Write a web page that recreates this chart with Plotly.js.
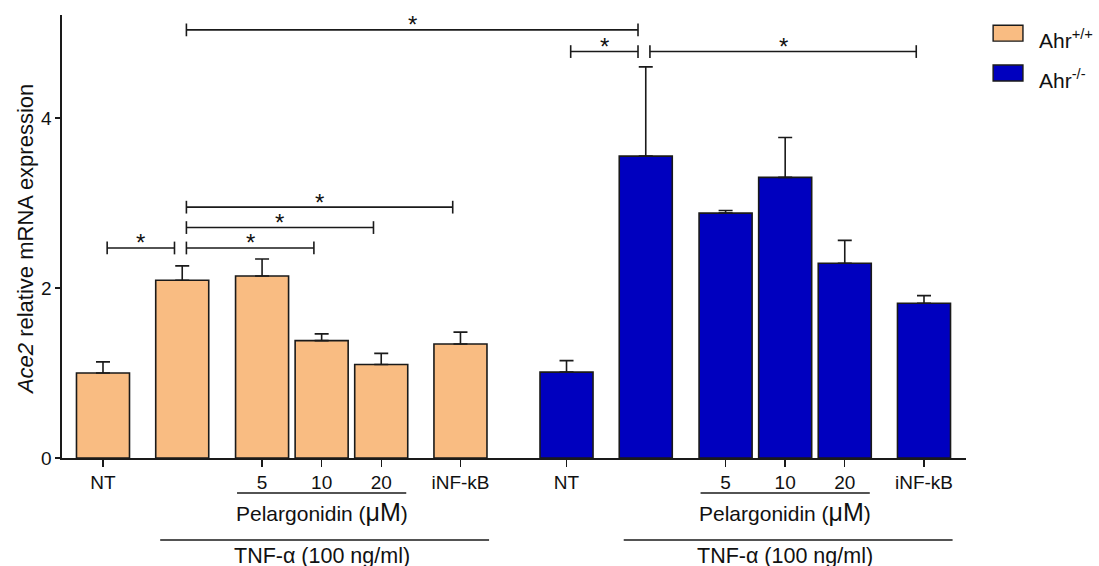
<!DOCTYPE html>
<html>
<head>
<meta charset="utf-8">
<script src="https://cdn.plot.ly/plotly-3.0.1.min.js"></script>
<style>html,body{margin:0;padding:0;background:#fff;}#chart{width:1099px;height:566px;}</style>
</head>
<body>
<div id="chart"></div>
<script>
// ---- data ----
const conditions = ['NT', 'TNF', '5', '10', '20', 'iNF-kB'];
const tickLabels = ['NT', '', '5', '10', '20', 'iNF-kB'];
const seriesNames = ['Ahr<sup>+/+</sup>', 'Ahr<sup>-/-</sup>'];
const wtMean = [1.00, 2.09, 2.14, 1.38, 1.10, 1.34];
const wtSem  = [0.13, 0.17, 0.20, 0.08, 0.13, 0.14];
const koMean = [1.01, 3.55, 2.88, 3.30, 2.29, 1.82];
const koSem  = [0.135, 1.05, 0.03, 0.47, 0.27, 0.09];
// significance comparisons (indices into the 12 bars: 0-5 wild type, 6-11 knockout)
const sigFrom  = [0, 1, 1, 1, 1, 6, 7];
const sigTo    = [1, 3, 4, 5, 7, 7, 11];
const sigLevel = [2.47, 2.47, 2.71, 2.95, 5.035, 4.78, 4.78];
const sigLabel = ['*', '*', '*', '*', '*', '*', '*'];

// ---- layout helpers ----
const slotPos = [0, 1.33, 2.67, 3.67, 4.67, 6.0];
const groupOffset = [0, 7.78];
const xs = g => slotPos.map(p => p + groupOffset[g]);
const allX = xs(0).concat(xs(1));
const colors = ['#F9BC82', '#0000BF'];
const F = '"Liberation Sans", Arial, Helvetica, sans-serif';
const tickIdx = [0, 2, 3, 4, 5];

const traces = [wtMean, koMean].map((vals, g) => ({
  type: 'bar',
  x: xs(g),
  y: vals,
  width: 0.89,
  name: seriesNames[g],
  marker: {color: colors[g], line: {color: '#1a1a1a', width: 1.6}},
  error_y: {type: 'data', symmetric: false, array: (g ? koSem : wtSem), arrayminus: vals.map(() => 0),
            color: '#1a1a1a', thickness: 1.6, width: 7},
  showlegend: false,
  hoverinfo: 'skip'
}));

const shapes = [];
const annotations = [];
const tickH = 0.075;
sigFrom.forEach((a, i) => {
  const x0 = allX[a] + 0.07, x1 = allX[sigTo[i]] - 0.13, y = sigLevel[i];
  const L = {color: '#1a1a1a', width: 1.6};
  shapes.push({type: 'line', xref: 'x', yref: 'y', x0: x0, x1: x1, y0: y, y1: y, line: L});
  shapes.push({type: 'line', xref: 'x', yref: 'y', x0: x0, x1: x0, y0: y - tickH, y1: y + tickH, line: L});
  shapes.push({type: 'line', xref: 'x', yref: 'y', x0: x1, x1: x1, y0: y - tickH, y1: y + tickH, line: L});
  annotations.push({xref: 'x', yref: 'y', x: (x0 + x1) / 2, y: y, text: sigLabel[i], showarrow: false,
    font: {family: F, size: 24, color: '#111'}, xanchor: 'center', yanchor: 'middle', yshift: 5});
});

// group underlines
[0, 1].forEach(g => {
  const p = xs(g);
  const mid = (p[2] + p[4]) / 2;
  shapes.push({type: 'line', xref: 'x', yref: 'paper', x0: p[2] - 0.42, x1: p[4] + 0.42, y0: -0.079, y1: -0.079,
    line: {color: '#1a1a1a', width: 1.4}});
  annotations.push({xref: 'x', yref: 'paper', x: mid, y: -0.121, showarrow: false,
    text: 'Pelargonidin (<span style="font-size:25px">μM</span>)', font: {family: F, size: 21, color: '#111'},
    xanchor: 'center', yanchor: 'middle'});
  shapes.push({type: 'line', xref: 'x', yref: 'paper', x0: p[1] - 0.37, x1: p[5] + 0.48, y0: -0.185, y1: -0.185,
    line: {color: '#1a1a1a', width: 1.4}});
  annotations.push({xref: 'x', yref: 'paper', x: mid, y: -0.222, showarrow: false,
    text: 'TNF-α (100 ng/ml)', font: {family: F, size: 21.5, color: '#111'}, xanchor: 'center', yanchor: 'middle'});
});

// manual legend
const legY = [[0.977, 0.941], [0.887, 0.851]];
[0, 1].forEach(g => {
  shapes.push({type: 'rect', xref: 'paper', yref: 'paper', x0: 1.030, x1: 1.063, y0: legY[g][1], y1: legY[g][0],
    fillcolor: colors[g], line: {color: '#1a1a1a', width: 1.4}});
  annotations.push({xref: 'paper', yref: 'paper', x: 1.0785, y: (legY[g][0] + legY[g][1]) / 2 - 0.014, showarrow: false,
    text: seriesNames[g], font: {family: F, size: 21, color: '#111'}, xanchor: 'left', yanchor: 'middle'});
});

// y title
annotations.push({xref: 'paper', yref: 'paper', x: -0.041, y: 0.494, textangle: -90, showarrow: false,
  text: '<i>Ace2</i> relative mRNA expression', font: {family: F, size: 22, color: '#111'},
  xanchor: 'center', yanchor: 'middle'});

const layout = {
  width: 1099, height: 566,
  margin: {l: 62, r: 133, t: 15, b: 108},
  paper_bgcolor: '#fff', plot_bgcolor: '#fff',
  font: {family: F, color: '#111'},
  bargap: 0,
  xaxis: {range: [-0.688, 14.485], showline: true, linecolor: '#1a1a1a', linewidth: 1.6,
    tickmode: 'array',
    tickvals: [0, 1].flatMap(g => tickIdx.map(i => xs(g)[i])),
    ticktext: [0, 1].flatMap(() => tickIdx.map(i => tickLabels[i])),
    ticks: 'outside', ticklen: 7, tickwidth: 1.4, tickcolor: '#1a1a1a',
    tickfont: {family: F, size: 19, color: '#111'}, showgrid: false, zeroline: false, fixedrange: true},
  yaxis: {range: [0, 5.21], showline: true, linecolor: '#1a1a1a', linewidth: 1.6,
    tickmode: 'array', tickvals: [0, 2, 4], ticks: 'outside', ticklen: 5, tickwidth: 1.4, tickcolor: '#1a1a1a',
    tickfont: {family: F, size: 19, color: '#111'}, showgrid: false, zeroline: false, fixedrange: true},
  shapes: shapes,
  annotations: annotations,
  showlegend: false
};

Plotly.newPlot('chart', traces, layout, {displayModeBar: false, staticPlot: true});
</script>
</body>
</html>
